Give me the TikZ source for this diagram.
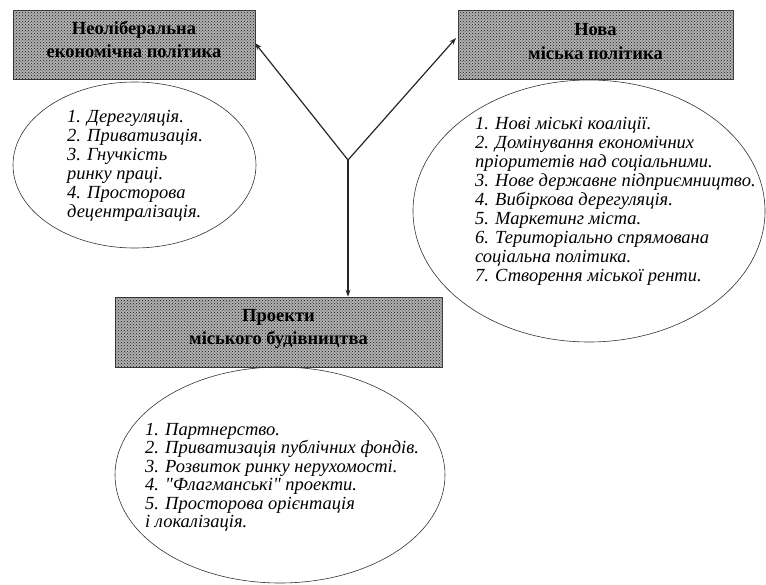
\documentclass[tikz,border=0pt]{standalone}
\usepackage{fontspec}
\setmainfont{Liberation Serif}[Ligatures=TeXOff]
\usetikzlibrary{patterns,arrows.meta,shapes.geometric}
\tikzset{
  hdrbox/.style={rectangle, draw=gray!50!black, line width=0.6pt, fill=gray!62,
    postaction={pattern=crosshatch dots, pattern color=black!90},
    inner sep=0pt},
  hdrtxt/.style={inner sep=0pt, font=\fontsize{18.5}{23.5}\selectfont\bfseries, align=center},
  oval/.style={ellipse, draw=black!80, line width=0.6pt, inner sep=0pt},
  listtxt/.style={anchor=north west, inner sep=0pt, align=left,
    font=\fontsize{18.5}{19}\selectfont\itshape},
  arr/.style={draw=black!85, line width=1.2pt, -{Stealth[length=7pt,width=5pt]}}
}
\begin{document}
\begin{tikzpicture}[x=1pt,y=-1pt]
\useasboundingbox (0,0) rectangle (766,584);
% boxes
\node[hdrbox, minimum width=242pt, minimum height=69pt] (b1) at (134,44.5) {};
\node[hdrbox, minimum width=275pt, minimum height=69pt] (b2) at (595.5,44.5) {};
\node[hdrbox, minimum width=327pt, minimum height=70pt] (b3) at (278.5,332) {};
\node[hdrtxt] (h1) at ([yshift=5pt]b1.center) {Неоліберальна\\економічна політика};
\node[hdrtxt] (h2) at ([yshift=3pt]b2.center) {Нова\\міська політика};
\node[hdrtxt] (h3) at ([yshift=3pt]b3.center) {Проекти\\міського будівництва};
% ellipses
\node[oval, minimum width=243pt, minimum height=166pt] (e1) at (134.5,165) {};
\node[oval, minimum width=352pt, minimum height=262pt] (e2) at (589,211) {};
\node[oval, minimum width=330pt, minimum height=216pt] (e3) at (280,475) {};
% texts
\node[listtxt] (t1) at (67,110) {1. Дерегуляція.\\2. Приватизація.\\3. Гнучкість\\ринку праці.\\4. Просторова\\децентралізація.};
\node[listtxt] (t2) at (475,117) {1. Нові міські коаліції.\\2. Домінування економічних\\пріоритетів над соціальними.\\3. Нове державне підприємництво.\\4. Вибіркова дерегуляція.\\5. Маркетинг міста.\\6. Територіально спрямована\\соціальна політика.\\7. Створення міської ренти.};
\node[listtxt, font=\fontsize{18.5}{18.5}\selectfont\itshape] (t3) at (145,423) {1. Партнерство.\\2. Приватизація публічних фондів.\\3. Розвиток ринку нерухомості.\\4. "Флагманські" проекти.\\5. Просторова орієнтація\\і локалізація.};
% arrows
\coordinate (j) at (348,160);
\coordinate (p1) at (255,43);
\coordinate (p2) at (456,38);
\draw[arr] (j) -- (p1);
\draw[arr] (j) -- (p2);
\draw[arr] (j) -- (b3.north -| j);
\end{tikzpicture}
\end{document}
